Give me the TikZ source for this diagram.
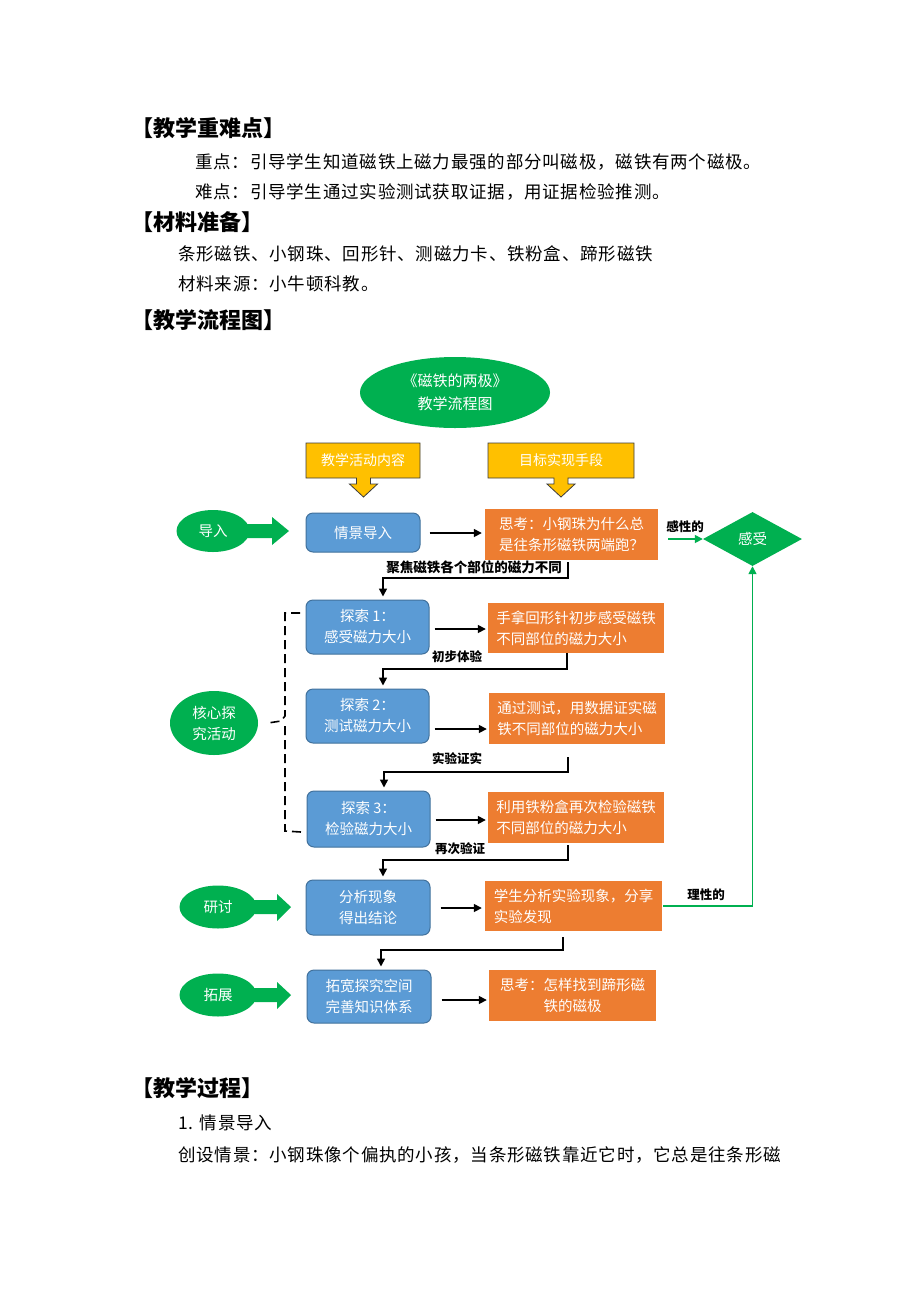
\documentclass[tikz,border=0pt]{standalone}
\usepackage{fontspec}
\setmainfont{Noto Sans CJK SC}
\usetikzlibrary{arrows.meta,shapes.geometric}
\definecolor{gr}{RGB}{0,176,80}
\definecolor{bl}{RGB}{91,155,213}
\definecolor{blb}{RGB}{65,113,156}
\definecolor{og}{RGB}{237,125,49}
\definecolor{gd}{RGB}{255,192,0}
\definecolor{gdb}{RGB}{60,60,60}
\newcommand\fz[2]{\fontsize{#1pt}{#2pt}\selectfont}
\tikzset{
 bbox/.style={draw=blb, line width=1pt, fill=bl, rounded corners=7pt, text=white, align=center, inner sep=0pt, font=\fz{14.5}{21}},
 obox/.style={fill=og, text=white, inner sep=0pt, font=\fz{14.5}{21}},
 flow/.style={-{Triangle[length=8pt,width=8pt]}, line width=1.6pt, black},
 gflow/.style={-{Triangle[length=8pt,width=8pt]}, line width=1.6pt, gr},
 lab/.style={font=\fz{12.5}{15}\bfseries, inner sep=0pt},
 gnode/.style={ellipse, fill=gr, text=white, inner sep=0pt, align=center, font=\fz{14.5}{21}},
 body/.style={anchor=west, inner sep=0pt, font=\fz{17.5}{20}\addfontfeature{LetterSpace=4.5}},
 head/.style={anchor=west, inner sep=0pt, font=\fz{22}{24}\bfseries},
}
\begin{document}
\begin{tikzpicture}[x=1pt,y=-1pt]
\useasboundingbox[fill=white] (0,0) rectangle (920,1302);

% header texts
\node[head] (h1) at (131,128) {【教学重难点】};
\node[body] (t1) at (195,162) {重点：引导学生知道磁铁上磁力最强的部分叫磁极，磁铁有两个磁极。};
\node[body] (t2) at (195,192) {难点：引导学生通过实验测试获取证据，用证据检验推测。};
\node[head] (h2) at (131,222) {【材料准备】};
\node[body] (t3) at (178,254) {条形磁铁、小钢珠、回形针、测磁力卡、铁粉盒、蹄形磁铁};
\node[body] (t4) at (178,284) {材料来源：小牛顿科教。};
\node[head] (h3) at (131,320) {【教学流程图】};

% title ellipse
\node[gnode, minimum width=190pt, minimum height=71pt, font=\fz{15}{23}] (tt) at (455,392.5) {《磁铁的两极》\\教学流程图};

% yellow callouts
\draw[fill=gd, draw=gdb, line width=0.8pt] (306,443) -- (420,443) -- (420,478) -- (370.5,478) -- (370.5,484) -- (377.5,484) -- (363.5,497) -- (349.5,484) -- (356.5,484) -- (356.5,478) -- (306,478) -- cycle;
\node[text=white, inner sep=0pt, font=\fz{14}{16}] (y1) at (363,460.5) {教学活动内容};
\draw[fill=gd, draw=gdb, line width=0.8pt] (488,443) -- (634,443) -- (634,478) -- (568,478) -- (568,484) -- (575,484) -- (561,497) -- (547,484) -- (554,484) -- (554,478) -- (488,478) -- cycle;
\node[text=white, inner sep=0pt, font=\fz{14}{16}] (y2) at (561,460.5) {目标实现手段};

% green stage labels
\fill[gr] (240,524) -- (272,524) -- (272,517) -- (289,531) -- (272,545) -- (272,538) -- (240,538) -- cycle;
\node[gnode, minimum width=73pt, minimum height=42pt] (g1) at (213,531) {导入};
\node[gnode, minimum width=88pt, minimum height=64pt] (g2) at (214,723) {核心探\\究活动};
\fill[gr] (245,900) -- (277,900) -- (277,894) -- (291,907) -- (277,921) -- (277,914) -- (245,914) -- cycle;
\node[gnode, minimum width=77pt, minimum height=43pt] (g3) at (218,907) {研讨};
\fill[gr] (245,988) -- (277,988) -- (277,982) -- (291,995) -- (277,1009) -- (277,1002) -- (245,1002) -- cycle;
\node[gnode, minimum width=77pt, minimum height=43pt] (g4) at (218,995) {拓展};

% blue boxes
\node[bbox, minimum width=114pt, minimum height=39pt] (b1) at (363,532.5) {情景导入};
\node[bbox, minimum width=123pt, minimum height=54pt] (b2) at (367.5,627) {探索 1：\\感受磁力大小};
\node[bbox, minimum width=123pt, minimum height=54pt] (b3) at (367.5,716) {探索 2：\\测试磁力大小};
\node[bbox, minimum width=123pt, minimum height=56pt] (b4) at (368.5,819) {探索 3：\\检验磁力大小};
\node[bbox, minimum width=124pt, minimum height=55pt] (b5) at (368,907.5) {分析现象\\得出结论};
\node[bbox, minimum width=124pt, minimum height=53pt] (b6) at (369,996.5) {拓宽探究空间\\完善知识体系};

% orange boxes
\node[obox, minimum width=173pt, minimum height=51pt, align=left] (o1) at (571.5,534.5) {思考：小钢珠为什么总\\是往条形磁铁两端跑？};
\node[obox, minimum width=176pt, minimum height=50pt, align=left] (o2) at (576,628) {手拿回形针初步感受磁铁\\不同部位的磁力大小};
\node[obox, minimum width=176pt, minimum height=51pt, align=left] (o3) at (577,718.5) {通过测试，用数据证实磁\\铁不同部位的磁力大小};
\node[obox, minimum width=176pt, minimum height=51pt, align=left] (o4) at (576,817.5) {利用铁粉盒再次检验磁铁\\不同部位的磁力大小};
\node[obox, minimum width=177pt, minimum height=50pt, align=left] (o5) at (573.5,906) {学生分析实验现象，分享\\实验发现};
\node[obox, minimum width=167pt, minimum height=51pt, align=center] (o6) at (572.5,995.5) {思考：怎样找到蹄形磁\\铁的磁极};

% diamond
\node[diamond, fill=gr, text=white, inner sep=0pt, minimum width=99pt, minimum height=54pt, font=\fz{14.5}{16}] (d) at (752.5,539) {感受};

% horizontal arrows
\draw[flow] ([xshift=9pt,yshift=-0.5pt]b1.east) -- ([xshift=-3pt,yshift=-0.5pt]b1.east -| o1.west);
\draw[flow] ([xshift=5pt,yshift=-2pt]b2.east) -- ([xshift=-2pt,yshift=-2pt]b2.east -| o2.west);
\draw[flow] ([xshift=5pt,yshift=-13pt]b3.east) -- ([xshift=-2pt,yshift=-13pt]b3.east -| o3.west);
\draw[flow] ([xshift=5pt,yshift=-1pt]b4.east) -- ([xshift=-2pt,yshift=-1pt]b4.east -| o4.west);
\draw[flow] ([xshift=10pt,yshift=-0.5pt]b5.east) -- ([xshift=-3pt,yshift=-0.5pt]b5.east -| o5.west);
\draw[flow] ([xshift=10pt,yshift=-3.5pt]b6.east) -- ([xshift=-2pt,yshift=-3.5pt]b6.east -| o6.west);

% row connectors
\coordinate (k1) at (383,578);
\draw[flow] ([xshift=-3.5pt,yshift=-2pt]o1.south) |- (k1) -- ([xshift=15.5pt,yshift=3pt]b2.north);
\coordinate (k2) at (383,669);
\draw[flow] ([xshift=-9pt]o2.south) |- (k2) -- ([xshift=15.5pt,yshift=3pt]b3.north);
\coordinate (k3) at (384,772);
\draw[flow] ([xshift=-9pt,yshift=-13pt]o3.south) |- (k3) -- ([xshift=15.5pt,yshift=3pt]b4.north);
\coordinate (k4) at (383,860);
\draw[flow] ([xshift=-8pt,yshift=-2pt]o4.south) |- (k4) -- ([xshift=15pt,yshift=3pt]b5.north);
\coordinate (k5) at (381,950);
\draw[flow] ([xshift=-10.5pt,yshift=-6pt]o5.south) |- (k5) -- ([xshift=12pt,yshift=3pt]b6.north);

\node[lab, font=\fz{13.5}{15}\bfseries] (l1) at (474,567) {聚焦磁铁各个部位的磁力不同};
\node[lab] (l2) at (457,657) {初步体验};
\node[lab] (l3) at (457,759) {实验证实};
\node[lab] (l4) at (460,849) {再次验证};

% green feedback arrows
\draw[gflow] ([xshift=10pt]o1.east |- d.west) -- (d.west);
\node[lab] (l5) at (685,527) {感性的};
\draw[gflow] ([xshift=1pt]o5.east) -| (d.south);
\node[lab] (l6) at (706,895) {理性的};

% dashed bracket
\draw[dashed, dash pattern=on 9pt off 5pt, line width=1.6pt] (300,613) -- (285,613) -- (285,716) -- (281,721) -- (268,723);
\draw[dashed, dash pattern=on 9pt off 5pt, line width=1.6pt] (285,726) -- (285,831) -- (301,832);

% bottom texts
\node[head] (h4) at (131,1088) {【教学过程】};
\node[body] (t5) at (178,1123) {1. 情景导入};
\node[body] (t6) at (178,1155) {创设情景：小钢珠像个偏执的小孩，当条形磁铁靠近它时，它总是往条形磁};
\end{tikzpicture}
\end{document}
